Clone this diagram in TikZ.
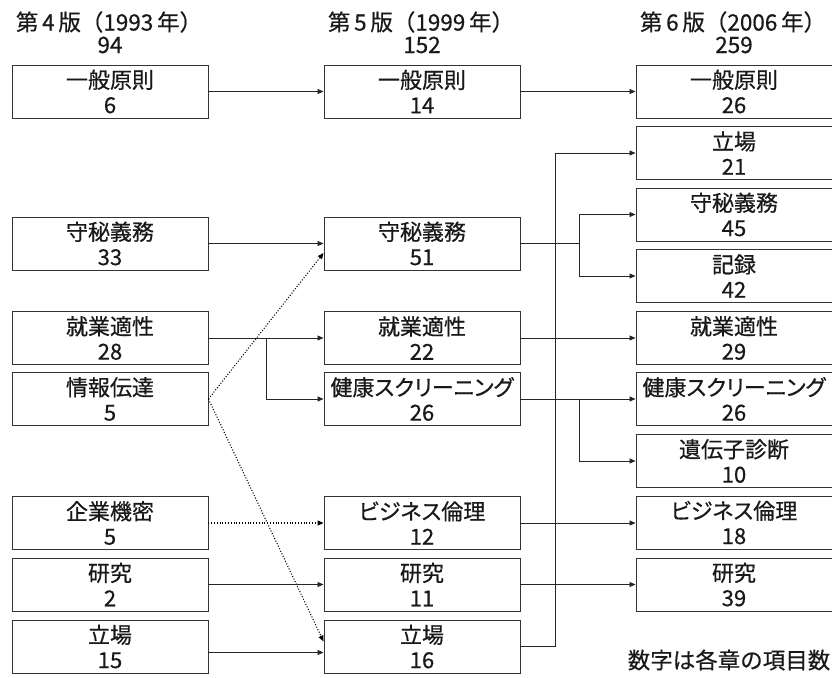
\documentclass[tikz,border=0pt]{standalone}
\usepackage{fontspec}
\setmainfont{Noto Sans CJK JP}[BoldFont=Noto Sans CJK JP, BoldFeatures={FakeBold=0.5}]
\newfontfamily\boxfont{Noto Sans CJK JP}[RawFeature=+palt, BoldFont=Noto Sans CJK JP, BoldFeatures={FakeBold=0.5,RawFeature=+palt}]
\usetikzlibrary{arrows.meta}
\begin{document}
\begin{tikzpicture}[x=1pt,y=-1pt,
  box/.style={draw=black!80, line width=0.9pt, minimum width=196pt, minimum height=53pt, inner sep=0pt, align=center, font=\boxfont\bfseries\fontsize{22}{25}\selectfont, text=black!90},
  conn/.style={draw=black!85, line width=0.8pt, -{Triangle[length=6pt,width=5pt]}},
  dotconn/.style={conn, draw=black, line width=1.1pt, dash pattern=on 1pt off 1.8pt},
  plain/.style={draw=black!85, line width=0.8pt},
  head/.style={inner sep=0pt, font=\bfseries\fontsize{22.5}{25}\selectfont, text=black!90}
]
\useasboundingbox (0,0) rectangle (832,677);
% headers
\node[head] (h1) at (109,22) {第\,4\,版（1993\,年）};
\node[head] (n1) at (110,45) {94};
\node[head] (h2) at (421,22) {第\,5\,版（1999\,年）};
\node[head] (n2) at (422,45) {152};
\node[head] (h3) at (733,22) {第\,6\,版（2006\,年）};
\node[head] (n3) at (734,45) {259};
% column 1
\node[box] (a1) at (110,91.5) {一般原則\\6};
\node[box] (a2) at (110,243.5) {守秘義務\\33};
\node[box] (a3) at (110,338) {就業適性\\28};
\node[box] (a4) at (110,399) {情報伝達\\5};
\node[box] (a5) at (110,523) {企業機密\\5};
\node[box] (a6) at (110,584.5) {研究\\2};
\node[box] (a7) at (110,646.5) {立場\\15};
% column 2
\node[box] (b1) at (422,91.5) {一般原則\\14};
\node[box] (b2) at (422,243.5) {守秘義務\\51};
\node[box] (b3) at (422,338) {就業適性\\22};
\node[box] (b4) at (422,399) {健康スクリーニング\\26};
\node[box] (b5) at (422,523) {ビジネス倫理\\12};
\node[box] (b6) at (422,584.5) {研究\\11};
\node[box] (b7) at (422,646.5) {立場\\16};
% column 3
\node[box] (c1) at (734,91.5) {一般原則\\26};
\node[box] (c2) at (734,153) {立場\\21};
\node[box] (c3) at (734,214.5) {守秘義務\\45};
\node[box] (c4) at (734,276) {記録\\42};
\node[box] (c5) at (734,338) {就業適性\\29};
\node[box] (c6) at (734,399) {健康スクリーニング\\26};
\node[box] (c7) at (734,461) {遺伝子診断\\10};
\node[box] (c8) at (734,522.5) {ビジネス倫理\\18};
\node[box] (c9) at (734,584.5) {研究\\39};
\node[head] (note) at (729,660) {数字は各章の項目数};
% column 1 -> 2
\draw[conn] (a1) -- (b1);
\draw[conn] (a2) -- (b2);
\draw[conn] (a3) -- (b3);
\coordinate (j1) at (266,338);
\draw[conn] (j1) |- (b4.west);
\draw[dotconn] (a4.east) -- ([yshift=-9.5pt]b2.west);
\draw[dotconn] (a4.east) -- ([yshift=5pt]b7.west);
\draw[dotconn] (a5) -- (b5);
\draw[conn] (a6) -- (b6);
\draw[conn] ([yshift=-6pt]a7.east) -- ([yshift=-6pt]b7.west);
% column 2 -> 3
\draw[conn] (b1) -- (c1);
\coordinate (j2) at (579,243.5);
\draw[plain] (b2.east) -- (j2);
\draw[conn] (j2) |- (c3.west);
\draw[conn] (j2) |- (c4.west);
\coordinate (j3) at (555,646.5);
\draw[conn] (b7.east) -- (j3) |- (c2.west);
\draw[conn] (b3) -- (c5);
\draw[conn] (b4) -- (c6);
\coordinate (j4) at (579,399);
\draw[conn] (j4) |- (c7.west);
\draw[conn] (b5.east) -- (c8.west |- b5.east);
\draw[conn] (b6) -- (c9);
\end{tikzpicture}
\end{document}
